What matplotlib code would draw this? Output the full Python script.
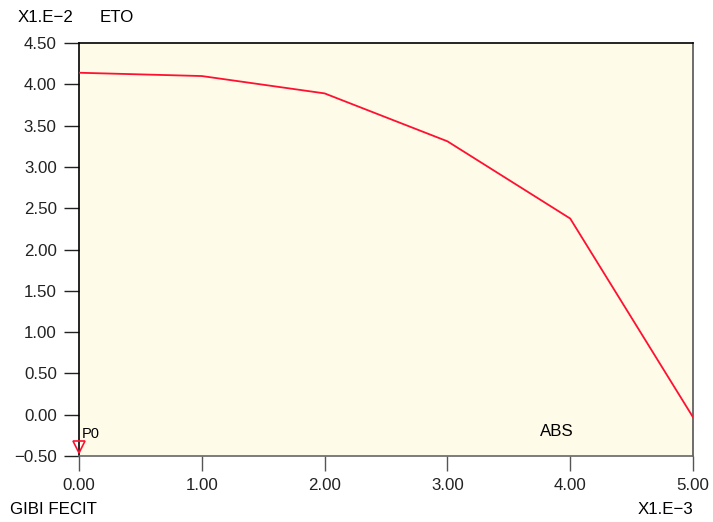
import matplotlib
matplotlib.use("Agg")
import matplotlib.pyplot as plt

plt.rcParams['font.family'] = ['Liberation Sans', 'DejaVu Sans']

# courbe ETO en fonction de ABS
abs_vals = [0.0, 1.0, 2.0, 3.0, 4.0, 5.0]
eto_vals = [4.14, 4.10, 3.89, 3.31, 2.375, -0.03]
x_ticks = [0.0, 1.0, 2.0, 3.0, 4.0, 5.0]
y_ticks = [-0.5, 0.0, 0.5, 1.0, 1.5, 2.0, 2.5, 3.0, 3.5, 4.0, 4.5]
p0_x = [0.0]
p0_y = [-0.39]

W, H = 713, 522
fs = 12.2
fig = plt.figure(figsize=(W / 100, H / 100), dpi=100)
ax = fig.add_axes([79 / W, 1 - 456 / H, (693 - 79) / W, (456 - 43) / H])
ax.set_facecolor('#fffbe9')

ax.plot(abs_vals, eto_vals, color='#ff1030', linewidth=1.3, zorder=3)
ax.plot(p0_x, p0_y, marker='v', markersize=8, markerfacecolor='none',
        markeredgecolor='#ff1030', markeredgewidth=1.2, linestyle='none',
        clip_on=False, zorder=4)

ax.set_xlim(0, 5)
ax.set_ylim(-0.5, 4.5)
ax.set_xticks(x_ticks)
ax.set_yticks(y_ticks)
ax.set_xticklabels([f"{v:.2f}" for v in x_ticks])
ax.set_yticklabels([f"{v:.2f}".replace('-', '\u2212') for v in y_ticks])
ax.tick_params(direction='out', length=11, width=1, labelsize=fs,
               colors='#222222', pad=5)
ax.tick_params(axis='x', color='#555555')

ax.spines['left'].set_color('black')
ax.spines['top'].set_color('black')
ax.spines['right'].set_color('#555555')
ax.spines['bottom'].set_color('#666666')
for s in ax.spines.values():
    s.set_linewidth(1.2)

fig.text(18 / W, 1 - 17 / H, 'X1.E\u22122', fontsize=fs, va='center', ha='left')
fig.text(100 / W, 1 - 17 / H, 'ETO', fontsize=fs, va='center', ha='left')
fig.text(10 / W, 1 - 510 / H, 'GIBI FECIT', fontsize=fs, va='center', ha='left')
fig.text(693 / W, 1 - 510 / H, 'X1.E\u22123', fontsize=fs, va='center', ha='right')
fig.text(540 / W, 1 - 431 / H, 'ABS', fontsize=fs, va='center', ha='left')
fig.text(82 / W, 1 - 434 / H, 'P0', fontsize=10.5, va='center', ha='left')

fig.savefig('out.png', dpi=100)
